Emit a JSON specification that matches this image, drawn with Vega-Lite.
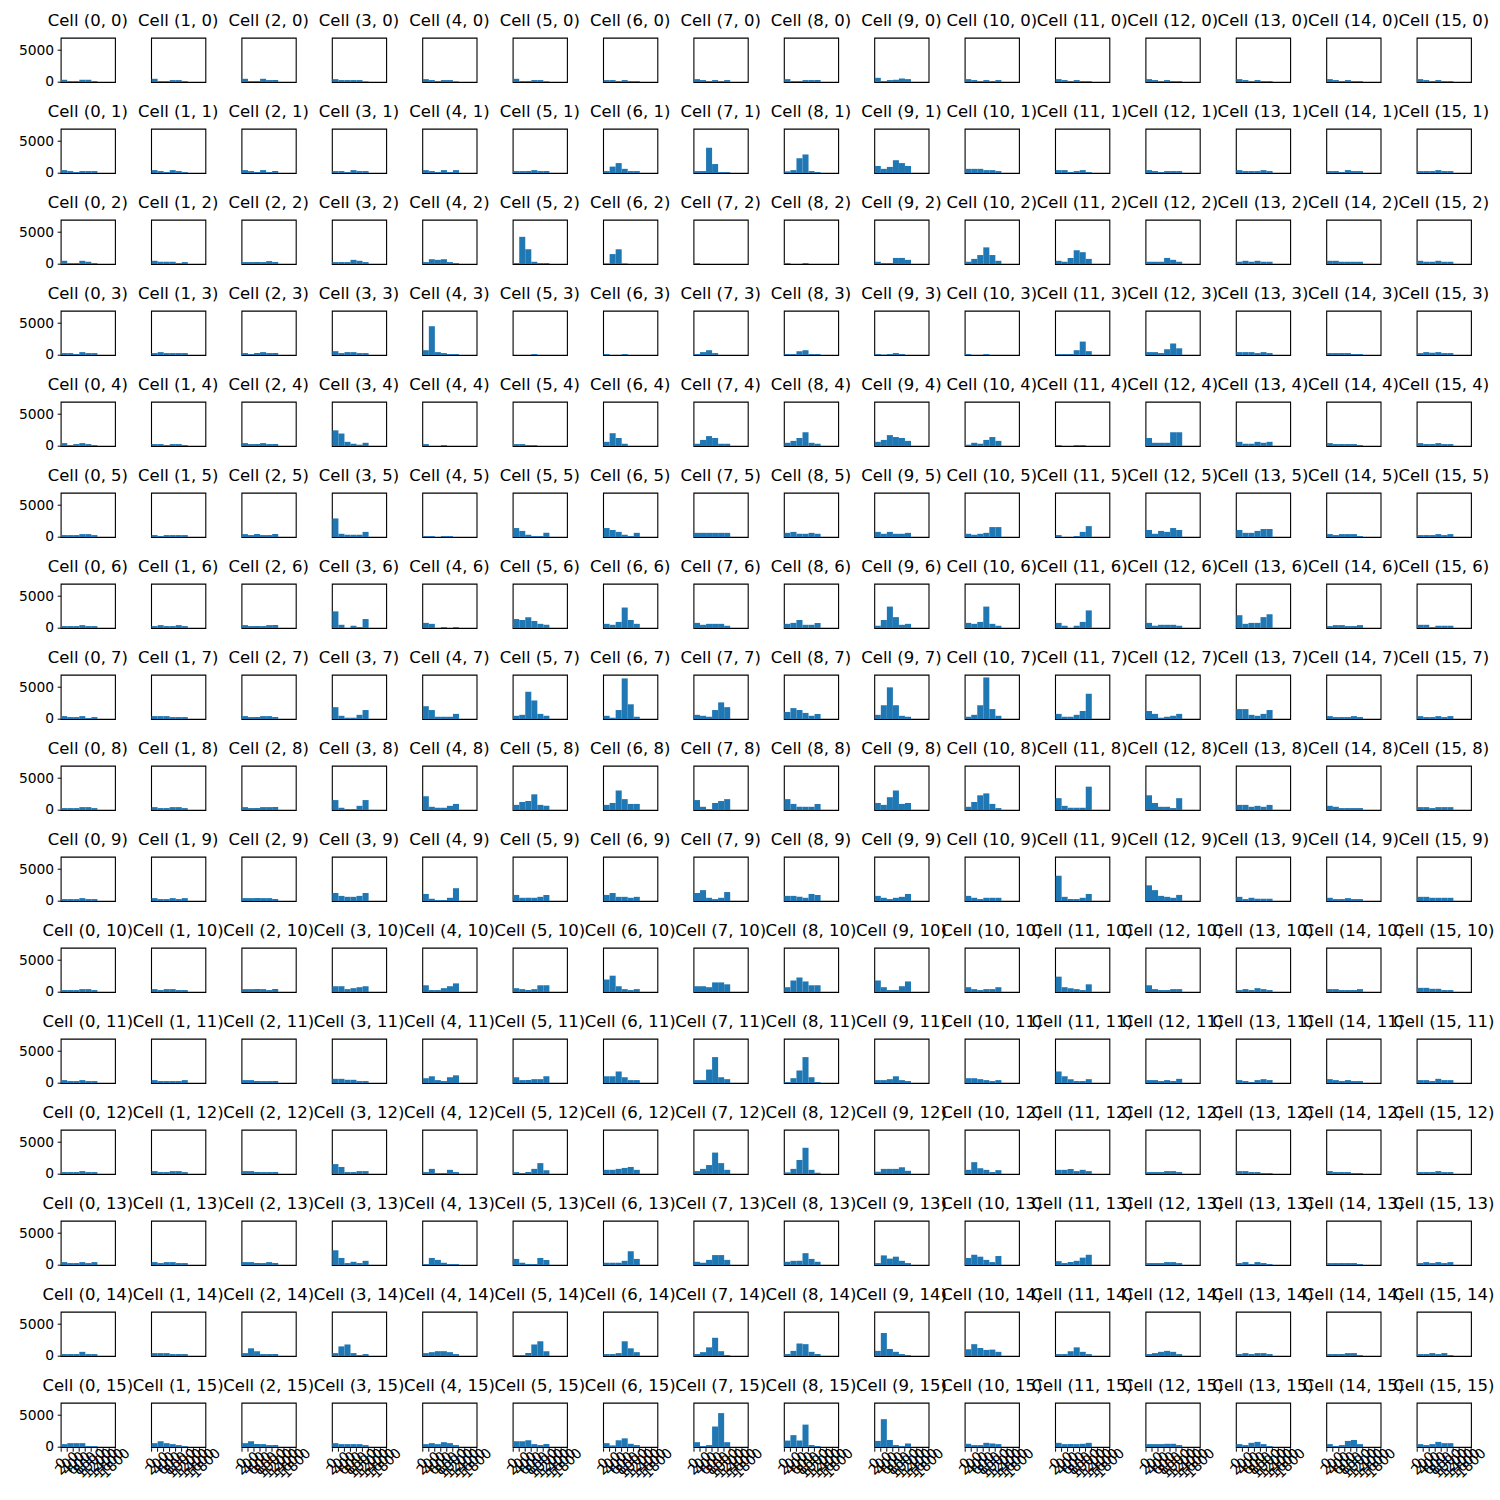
{
"$schema":"https://vega.github.io/schema/vega-lite/v6.json",
"padding":{"left":17.7,"top":11.7,"right":0,"bottom":0},
"background":"white",
"bounds":"flush",
"data":{"values":[
{"k":0,"0":350,"200":150,"400":150,"600":350,"800":350,"1000":150},
{"k":1,"0":500,"200":150,"400":150,"600":300,"800":300,"1000":150},
{"k":2,"0":500,"200":150,"400":150,"600":500,"800":300,"1000":300},
{"k":3,"0":450,"200":300,"400":300,"600":300,"800":300,"1000":100},
{"k":4,"0":450,"200":300,"400":150,"600":300,"800":300,"1000":100},
{"k":5,"0":500,"200":150,"400":150,"600":300,"800":300,"1000":100},
{"k":6,"0":300,"200":300,"400":150,"600":300,"800":150,"1000":150},
{"k":7,"0":450,"200":300,"400":150,"600":300,"800":150,"1000":300},
{"k":8,"0":450,"200":150,"400":150,"600":300,"800":300,"1000":300},
{"k":9,"0":650,"200":150,"400":300,"600":350,"800":550,"1000":450},
{"k":10,"0":450,"200":300,"400":150,"600":300,"800":150,"1000":300},
{"k":11,"0":450,"200":300,"400":150,"600":300,"800":150,"1000":150},
{"k":12,"0":450,"200":300,"400":150,"600":300,"800":150,"1000":150},
{"k":13,"0":450,"200":300,"400":150,"600":300,"800":150,"1000":150},
{"k":14,"0":450,"200":300,"400":150,"600":300,"800":150,"1000":150},
{"k":15,"0":450,"200":300,"400":150,"600":300,"800":150,"1000":150},
{"k":16,"0":450,"200":300,"400":150,"600":300,"800":300,"1000":300},
{"k":17,"0":450,"200":300,"400":150,"600":450,"800":300,"1000":150},
{"k":18,"0":450,"200":300,"400":150,"600":450,"800":150,"1000":300},
{"k":19,"0":300,"200":300,"400":150,"600":450,"800":300,"1000":300},
{"k":20,"0":450,"200":300,"400":150,"600":450,"800":150,"1000":450},
{"k":21,"0":300,"200":300,"400":300,"600":450,"800":300,"1000":300},
{"k":22,"0":300,"200":1000,"400":1550,"600":650,"800":300,"1000":300},
{"k":23,"0":300,"200":300,"400":3950,"600":1400,"800":150,"1000":150},
{"k":24,"0":250,"200":450,"400":2300,"600":2900,"800":300,"1000":150},
{"k":25,"0":1100,"200":650,"400":950,"600":2000,"800":1550,"1000":1100},
{"k":26,"0":650,"200":650,"400":650,"600":450,"800":450,"1000":300},
{"k":27,"0":450,"200":450,"400":150,"600":300,"800":450,"1000":150},
{"k":28,"0":450,"200":300,"400":150,"600":300,"800":300,"1000":300},
{"k":29,"0":450,"200":300,"400":300,"600":300,"800":450,"1000":300},
{"k":30,"0":300,"200":300,"400":150,"600":450,"800":300,"1000":300},
{"k":31,"0":300,"200":300,"400":300,"600":450,"800":300,"1000":300},
{"k":32,"0":500,"200":150,"400":150,"600":500,"800":350,"1000":150},
{"k":33,"0":500,"200":350,"400":350,"600":350,"800":150,"1000":300},
{"k":34,"0":300,"200":300,"400":300,"600":300,"800":450,"1000":300},
{"k":35,"0":300,"200":300,"400":300,"600":650,"800":500,"1000":300},
{"k":36,"0":300,"200":750,"400":650,"600":750,"800":300,"1000":150},
{"k":37,"0":150,"200":4250,"400":2300,"600":350,"800":150,"1000":150},
{"k":38,"0":100,"200":1550,"400":2300,"600":100,"800":0,"1000":0},
{"k":39,"0":150,"200":0,"400":0,"600":0,"800":0,"1000":0},
{"k":40,"0":150,"200":0,"400":0,"600":150,"800":0,"1000":0},
{"k":41,"0":350,"200":150,"400":150,"600":950,"800":950,"1000":650},
{"k":42,"0":350,"200":800,"400":1400,"600":2600,"800":1400,"1000":500},
{"k":43,"0":500,"200":350,"400":950,"600":2150,"800":1850,"1000":800},
{"k":44,"0":350,"200":350,"400":350,"600":950,"800":650,"1000":350},
{"k":45,"0":350,"200":500,"400":350,"600":500,"800":350,"1000":350},
{"k":46,"0":500,"200":500,"400":350,"600":350,"800":350,"1000":350},
{"k":47,"0":500,"200":350,"400":350,"600":500,"800":350,"1000":350},
{"k":48,"0":300,"200":300,"400":150,"600":450,"800":300,"1000":300},
{"k":49,"0":300,"200":450,"400":300,"600":300,"800":300,"1000":300},
{"k":50,"0":300,"200":150,"400":300,"600":450,"800":300,"1000":300},
{"k":51,"0":600,"200":300,"400":450,"600":450,"800":300,"1000":300},
{"k":52,"0":750,"200":4500,"400":450,"600":300,"800":150,"1000":150},
{"k":53,"0":0,"200":0,"400":0,"600":150,"800":0,"1000":0},
{"k":54,"0":150,"200":0,"400":0,"600":150,"800":0,"1000":0},
{"k":55,"0":150,"200":450,"400":750,"600":300,"800":0,"1000":0},
{"k":56,"0":150,"200":150,"400":600,"600":750,"800":150,"1000":150},
{"k":57,"0":150,"200":50,"400":150,"600":300,"800":150,"1000":0},
{"k":58,"0":150,"200":0,"400":0,"600":150,"800":0,"1000":0},
{"k":59,"0":150,"200":150,"400":150,"600":750,"800":2100,"1000":600},
{"k":60,"0":450,"200":450,"400":300,"600":900,"800":1800,"1000":1050},
{"k":61,"0":450,"200":450,"400":450,"600":300,"800":450,"1000":300},
{"k":62,"0":300,"200":300,"400":300,"600":300,"800":150,"1000":150},
{"k":63,"0":300,"200":450,"400":350,"600":450,"800":300,"1000":300},
{"k":64,"0":450,"200":150,"400":300,"600":450,"800":300,"1000":150},
{"k":65,"0":300,"200":300,"400":150,"600":300,"800":300,"1000":150},
{"k":66,"0":450,"200":300,"400":300,"600":450,"800":300,"1000":300},
{"k":67,"0":2450,"200":1950,"400":650,"600":350,"800":200,"1000":500},
{"k":68,"0":300,"200":0,"400":0,"600":150,"800":0,"1000":0},
{"k":69,"0":300,"200":300,"400":150,"600":150,"800":0,"1000":0},
{"k":70,"0":650,"200":2000,"400":1250,"600":350,"800":0,"1000":0},
{"k":71,"0":350,"200":950,"400":1550,"600":1250,"800":350,"1000":350},
{"k":72,"0":500,"200":800,"400":1250,"600":2150,"800":500,"1000":350},
{"k":73,"0":650,"200":950,"400":1700,"600":1400,"800":1250,"1000":800},
{"k":74,"0":200,"200":500,"400":350,"600":950,"800":1400,"1000":800},
{"k":75,"0":150,"200":0,"400":0,"600":150,"800":150,"1000":0},
{"k":76,"0":1250,"200":500,"400":500,"600":500,"800":2150,"1000":2150},
{"k":77,"0":650,"200":350,"400":350,"600":650,"800":500,"1000":650},
{"k":78,"0":450,"200":300,"400":300,"600":300,"800":300,"1000":150},
{"k":79,"0":450,"200":300,"400":300,"600":450,"800":300,"1000":300},
{"k":80,"0":300,"200":300,"400":300,"600":450,"800":450,"1000":300},
{"k":81,"0":300,"200":150,"400":300,"600":300,"800":300,"1000":300},
{"k":82,"0":450,"200":300,"400":450,"600":300,"800":300,"1000":450},
{"k":83,"0":2900,"200":500,"400":350,"600":350,"800":350,"1000":800},
{"k":84,"0":150,"200":150,"400":0,"600":150,"800":150,"1000":0},
{"k":85,"0":1400,"200":950,"400":350,"600":150,"800":150,"1000":650},
{"k":86,"0":1400,"200":1100,"400":800,"600":350,"800":150,"1000":650},
{"k":87,"0":650,"200":650,"400":650,"600":650,"800":650,"1000":650},
{"k":88,"0":650,"200":800,"400":500,"600":500,"800":650,"1000":500},
{"k":89,"0":800,"200":500,"400":800,"600":500,"800":500,"1000":650},
{"k":90,"0":500,"200":350,"400":500,"600":650,"800":1550,"1000":1550},
{"k":91,"0":300,"200":0,"400":0,"600":150,"800":800,"1000":1700},
{"k":92,"0":1100,"200":500,"400":950,"600":800,"800":1400,"1000":1100},
{"k":93,"0":1100,"200":650,"400":650,"600":950,"800":1250,"1000":1250},
{"k":94,"0":450,"200":300,"400":450,"600":450,"800":450,"1000":150},
{"k":95,"0":300,"200":300,"400":300,"600":450,"800":300,"1000":450},
{"k":96,"0":300,"200":300,"400":300,"600":450,"800":300,"1000":300},
{"k":97,"0":300,"200":450,"400":300,"600":300,"800":450,"1000":300},
{"k":98,"0":450,"200":300,"400":300,"600":300,"800":450,"1000":450},
{"k":99,"0":2600,"200":500,"400":0,"600":350,"800":150,"1000":1400},
{"k":100,"0":800,"200":650,"400":0,"600":150,"800":0,"1000":150},
{"k":101,"0":1400,"200":1250,"400":1700,"600":1100,"800":650,"1000":500},
{"k":102,"0":650,"200":500,"400":950,"600":3200,"800":1250,"1000":650},
{"k":103,"0":800,"200":500,"400":650,"600":650,"800":650,"1000":350},
{"k":104,"0":650,"200":800,"400":1250,"600":500,"800":500,"1000":800},
{"k":105,"0":350,"200":1250,"400":3350,"600":1700,"800":500,"1000":650},
{"k":106,"0":800,"200":650,"400":950,"600":3350,"800":650,"1000":350},
{"k":107,"0":800,"200":350,"400":0,"600":350,"800":950,"1000":2750},
{"k":108,"0":800,"200":350,"400":500,"600":500,"800":500,"1000":350},
{"k":109,"0":2000,"200":650,"400":800,"600":800,"800":1700,"1000":2150},
{"k":110,"0":300,"200":450,"400":450,"600":300,"800":300,"1000":450},
{"k":111,"0":500,"200":500,"400":150,"600":350,"800":350,"1000":350},
{"k":112,"0":450,"200":300,"400":300,"600":450,"800":150,"1000":300},
{"k":113,"0":450,"200":450,"400":450,"600":300,"800":300,"1000":300},
{"k":114,"0":450,"200":300,"400":300,"600":450,"800":450,"1000":300},
{"k":115,"0":1850,"200":500,"400":200,"600":200,"800":650,"1000":1400},
{"k":116,"0":2000,"200":1400,"400":350,"600":350,"800":350,"1000":800},
{"k":117,"0":500,"200":650,"400":4250,"600":2900,"800":800,"1000":500},
{"k":118,"0":500,"200":200,"400":1400,"600":6350,"800":2300,"1000":350},
{"k":119,"0":650,"200":500,"400":350,"600":1400,"800":2600,"1000":1850},
{"k":120,"0":1100,"200":1700,"400":1400,"600":950,"800":500,"1000":800},
{"k":121,"0":650,"200":2150,"400":4950,"600":2150,"800":500,"1000":350},
{"k":122,"0":350,"200":650,"400":2150,"600":6500,"800":1550,"1000":500},
{"k":123,"0":800,"200":350,"400":350,"600":650,"800":1250,"1000":3950},
{"k":124,"0":1250,"200":800,"400":200,"600":350,"800":500,"1000":800},
{"k":125,"0":1550,"200":1550,"400":650,"600":500,"800":800,"1000":1400},
{"k":126,"0":450,"200":300,"400":300,"600":300,"800":450,"1000":300},
{"k":127,"0":450,"200":300,"400":300,"600":450,"800":300,"1000":450},
{"k":128,"0":300,"200":300,"400":300,"600":450,"800":450,"1000":300},
{"k":129,"0":450,"200":300,"400":300,"600":450,"800":450,"1000":300},
{"k":130,"0":450,"200":300,"400":300,"600":450,"800":450,"1000":450},
{"k":131,"0":1550,"200":350,"400":150,"600":150,"800":650,"1000":1550},
{"k":132,"0":2150,"200":500,"400":350,"600":350,"800":650,"1000":950},
{"k":133,"0":800,"200":1250,"400":1400,"600":2450,"800":800,"1000":650},
{"k":134,"0":800,"200":1100,"400":3050,"600":1700,"800":950,"1000":950},
{"k":135,"0":1550,"200":500,"400":150,"600":1100,"800":1400,"1000":1700},
{"k":136,"0":1700,"200":950,"400":500,"600":500,"800":500,"1000":950},
{"k":137,"0":1100,"200":800,"400":2000,"600":3050,"800":950,"1000":1100},
{"k":138,"0":500,"200":1250,"400":2300,"600":2600,"800":950,"1000":300},
{"k":139,"0":1850,"200":650,"400":350,"600":350,"800":350,"1000":3650},
{"k":140,"0":2300,"200":1100,"400":500,"600":500,"800":300,"1000":1850},
{"k":141,"0":800,"200":800,"400":500,"600":650,"800":500,"1000":800},
{"k":142,"0":650,"200":500,"400":300,"600":300,"800":300,"1000":300},
{"k":143,"0":450,"200":450,"400":300,"600":450,"800":450,"1000":450},
{"k":144,"0":300,"200":300,"400":300,"600":450,"800":300,"1000":300},
{"k":145,"0":450,"200":300,"400":300,"600":450,"800":300,"1000":450},
{"k":146,"0":450,"200":450,"400":450,"600":450,"800":450,"1000":300},
{"k":147,"0":1250,"200":800,"400":650,"600":650,"800":800,"1000":1250},
{"k":148,"0":1100,"200":350,"400":150,"600":150,"800":500,"1000":2000},
{"k":149,"0":950,"200":500,"400":500,"600":500,"800":650,"1000":950},
{"k":150,"0":950,"200":1250,"400":650,"600":650,"800":500,"1000":650},
{"k":151,"0":1250,"200":1700,"400":500,"600":300,"800":500,"1000":1400},
{"k":152,"0":800,"200":800,"400":650,"600":500,"800":1100,"1000":950},
{"k":153,"0":800,"200":500,"400":300,"600":500,"800":650,"1000":1100},
{"k":154,"0":800,"200":500,"400":300,"600":500,"800":500,"1000":500},
{"k":155,"0":3950,"200":650,"400":300,"600":300,"800":500,"1000":1100},
{"k":156,"0":2450,"200":1700,"400":800,"600":650,"800":500,"1000":950},
{"k":157,"0":650,"200":300,"400":500,"600":350,"800":350,"1000":350},
{"k":158,"0":500,"200":300,"400":300,"600":450,"800":300,"1000":300},
{"k":159,"0":650,"200":650,"400":500,"600":500,"800":500,"1000":500},
{"k":160,"0":300,"200":300,"400":300,"600":450,"800":450,"1000":300},
{"k":161,"0":450,"200":300,"400":450,"600":450,"800":300,"1000":300},
{"k":162,"0":450,"200":450,"400":450,"600":450,"800":300,"1000":450},
{"k":163,"0":900,"200":900,"400":450,"600":600,"800":750,"1000":900},
{"k":164,"0":1050,"200":300,"400":300,"600":600,"800":900,"1000":1350},
{"k":165,"0":600,"200":450,"400":300,"600":450,"800":1050,"1000":1050},
{"k":166,"0":1950,"200":2550,"400":900,"600":450,"800":300,"1000":450},
{"k":167,"0":900,"200":900,"400":750,"600":1500,"800":1500,"1000":1200},
{"k":168,"0":750,"200":1800,"400":2250,"600":1650,"800":1050,"1000":1050},
{"k":169,"0":1800,"200":750,"400":300,"600":300,"800":900,"1000":1650},
{"k":170,"0":750,"200":450,"400":300,"600":450,"800":450,"1000":750},
{"k":171,"0":2400,"200":750,"400":600,"600":450,"800":300,"1000":1200},
{"k":172,"0":1050,"200":450,"400":300,"600":300,"800":450,"1000":450},
{"k":173,"0":300,"200":450,"400":300,"600":600,"800":450,"1000":300},
{"k":174,"0":450,"200":450,"400":300,"600":300,"800":300,"1000":450},
{"k":175,"0":650,"200":650,"400":500,"600":500,"800":300,"1000":300},
{"k":176,"0":450,"200":300,"400":300,"600":450,"800":300,"1000":300},
{"k":177,"0":450,"200":300,"400":300,"600":300,"800":300,"1000":450},
{"k":178,"0":450,"200":450,"400":300,"600":300,"800":300,"1000":300},
{"k":179,"0":650,"200":650,"400":500,"600":500,"800":300,"1000":300},
{"k":180,"0":750,"200":1050,"400":450,"600":300,"800":900,"1000":1200},
{"k":181,"0":900,"200":450,"400":450,"600":600,"800":600,"1000":1050},
{"k":182,"0":1050,"200":1050,"400":1800,"600":900,"800":450,"1000":450},
{"k":183,"0":450,"200":450,"400":2100,"600":4050,"800":900,"1000":600},
{"k":184,"0":150,"200":750,"400":1950,"600":4050,"800":900,"1000":150},
{"k":185,"0":450,"200":450,"400":600,"600":1050,"800":450,"1000":300},
{"k":186,"0":750,"200":750,"400":600,"600":450,"800":300,"1000":450},
{"k":187,"0":1800,"200":1050,"400":600,"600":300,"800":300,"1000":600},
{"k":188,"0":450,"200":450,"400":300,"600":450,"800":300,"1000":650},
{"k":189,"0":450,"200":300,"400":150,"600":450,"800":600,"1000":450},
{"k":190,"0":600,"200":450,"400":300,"600":450,"800":300,"1000":300},
{"k":191,"0":450,"200":450,"400":300,"600":650,"800":450,"1000":450},
{"k":192,"0":300,"200":300,"400":300,"600":450,"800":300,"1000":300},
{"k":193,"0":450,"200":300,"400":300,"600":450,"800":450,"1000":300},
{"k":194,"0":450,"200":450,"400":300,"600":300,"800":300,"1000":300},
{"k":195,"0":1550,"200":1100,"400":300,"600":300,"800":450,"1000":450},
{"k":196,"0":300,"200":800,"400":150,"600":150,"800":650,"1000":300},
{"k":197,"0":300,"200":150,"400":300,"600":800,"800":1700,"1000":600},
{"k":198,"0":650,"200":650,"400":800,"600":950,"800":1100,"1000":650},
{"k":199,"0":450,"200":800,"400":1400,"600":3350,"800":1700,"1000":650},
{"k":200,"0":250,"200":800,"400":2200,"600":4100,"800":650,"1000":200},
{"k":201,"0":350,"200":800,"400":800,"600":800,"800":1050,"1000":500},
{"k":202,"0":650,"200":1850,"400":900,"600":650,"800":300,"1000":600},
{"k":203,"0":650,"200":650,"400":800,"600":450,"800":650,"1000":450},
{"k":204,"0":300,"200":300,"400":300,"600":450,"800":450,"1000":300},
{"k":205,"0":450,"200":450,"400":300,"600":300,"800":150,"1000":150},
{"k":206,"0":450,"200":300,"400":300,"600":300,"800":150,"1000":150},
{"k":207,"0":300,"200":300,"400":300,"600":450,"800":300,"1000":300},
{"k":208,"0":450,"200":300,"400":300,"600":450,"800":300,"1000":450},
{"k":209,"0":450,"200":300,"400":450,"600":450,"800":300,"1000":300},
{"k":210,"0":450,"200":450,"400":300,"600":300,"800":450,"1000":300},
{"k":211,"0":2300,"200":1100,"400":300,"600":500,"800":300,"1000":650},
{"k":212,"0":150,"200":1100,"400":800,"600":350,"800":150,"1000":150},
{"k":213,"0":950,"200":350,"400":150,"600":150,"800":1100,"1000":800},
{"k":214,"0":350,"200":350,"400":350,"600":650,"800":2150,"1000":950},
{"k":215,"0":500,"200":350,"400":800,"600":1550,"800":1550,"1000":800},
{"k":216,"0":500,"200":650,"400":650,"600":1850,"800":950,"1000":500},
{"k":217,"0":300,"200":1500,"400":1000,"600":1300,"800":650,"1000":300},
{"k":218,"0":1100,"200":1600,"400":1300,"600":800,"800":450,"1000":1400},
{"k":219,"0":600,"200":300,"400":450,"600":650,"800":1150,"1000":1600},
{"k":220,"0":300,"200":300,"400":300,"600":450,"800":450,"1000":300},
{"k":221,"0":300,"200":450,"400":150,"600":450,"800":300,"1000":150},
{"k":222,"0":300,"200":300,"400":300,"600":300,"800":300,"1000":150},
{"k":223,"0":300,"200":450,"400":300,"600":450,"800":300,"1000":450},
{"k":224,"0":300,"200":300,"400":300,"600":650,"800":300,"1000":300},
{"k":225,"0":450,"200":450,"400":450,"600":300,"800":300,"1000":300},
{"k":226,"0":450,"200":1200,"400":750,"600":300,"800":300,"1000":300},
{"k":227,"0":450,"200":1500,"400":1800,"600":450,"800":150,"1000":300},
{"k":228,"0":450,"200":600,"400":750,"600":750,"800":600,"1000":300},
{"k":229,"0":150,"200":150,"400":450,"600":1800,"800":2300,"1000":750},
{"k":230,"0":300,"200":300,"400":450,"600":2300,"800":1200,"1000":600},
{"k":231,"0":300,"200":600,"400":1350,"600":2850,"800":750,"1000":150},
{"k":232,"0":300,"200":800,"400":1950,"600":1850,"800":650,"1000":300},
{"k":233,"0":800,"200":3600,"400":1100,"600":650,"800":300,"1000":150},
{"k":234,"0":1050,"200":1850,"400":1250,"600":950,"800":1000,"1000":650},
{"k":235,"0":300,"200":300,"400":750,"600":1350,"800":650,"1000":300},
{"k":236,"0":300,"200":450,"400":650,"600":800,"800":650,"1000":300},
{"k":237,"0":300,"200":450,"400":300,"600":450,"800":450,"1000":300},
{"k":238,"0":300,"200":300,"400":300,"600":450,"800":450,"1000":150},
{"k":239,"0":300,"200":300,"400":450,"600":300,"800":450,"1000":150},
{"k":240,"0":450,"200":600,"400":600,"600":600,"800":150,"1000":150},
{"k":241,"0":600,"200":900,"400":600,"600":450,"800":300,"1000":150},
{"k":242,"0":600,"200":900,"400":450,"600":450,"800":300,"1000":300},
{"k":243,"0":600,"200":450,"400":450,"600":450,"800":450,"1000":300},
{"k":244,"0":450,"200":600,"400":450,"600":750,"800":600,"1000":300},
{"k":245,"0":900,"200":900,"400":1050,"600":450,"800":300,"1000":450},
{"k":246,"0":600,"200":250,"400":1050,"600":1350,"800":500,"1000":300},
{"k":247,"0":750,"200":150,"400":300,"600":3200,"800":5300,"1000":750},
{"k":248,"0":1000,"200":1850,"400":1000,"600":3500,"800":300,"1000":150},
{"k":249,"0":950,"200":4350,"400":1100,"600":300,"800":150,"1000":550},
{"k":250,"0":500,"200":300,"400":300,"600":650,"800":550,"1000":450},
{"k":251,"0":650,"200":450,"400":450,"600":450,"800":500,"1000":650},
{"k":252,"0":450,"200":450,"400":450,"600":500,"800":500,"1000":300},
{"k":253,"0":450,"200":300,"400":650,"600":800,"800":450,"1000":150},
{"k":254,"0":450,"200":150,"400":300,"600":950,"800":1100,"1000":450},
{"k":255,"0":450,"200":300,"400":450,"600":800,"800":600,"1000":600}
]},
"transform":[{"fold":["0","200","400","600","800","1000"],"as":["x","v"]}],
"facet":{"field":"k","type":"ordinal","header":{"title":null,"labelExpr":"'Cell (' + (datum.value % 16) + ', ' + floor(datum.value / 16) + ')'","labelFont":"DejaVu Sans","labelFontSize":16.5,"labelColor":"black","labelPadding":8}},
"columns":16,
"spacing":{"row":46,"column":35.4},
"spec":{
"width":54.3,"height":44.3,
"mark":{"type":"bar","color":"#1f77b4","binSpacing":0},
"encoding":{
"x":{"field":"x","type":"quantitative","bin":{"step":200,"extent":[0,1800]},"scale":{"domain":[0,1800]},"axis":{"title":null,"values":[0,200,400,600,800,1000,1200,1400,1600,1800],"format":"d","grid":false,"domain":false,"tickSize":3.5,"tickColor":"black","labelAngle":-45,"labelAlign":"center","labelBaseline":"middle","labelPadding":12,"labelFont":"DejaVu Sans","labelFontSize":13.9,"labelColor":"black","labelOverlap":false,"labelFlush":false,"labelBound":false}},
"y":{"field":"v","type":"quantitative","aggregate":"sum","scale":{"domain":[0,6930]},"axis":{"title":null,"values":[0,5000],"format":"d","grid":false,"domain":false,"tickSize":3.5,"tickColor":"black","labelPadding":3.5,"labelFont":"DejaVu Sans","labelFontSize":13.9,"labelColor":"black"}}
}
},
"config":{"view":{"stroke":"black","strokeWidth":1.1}}
}
